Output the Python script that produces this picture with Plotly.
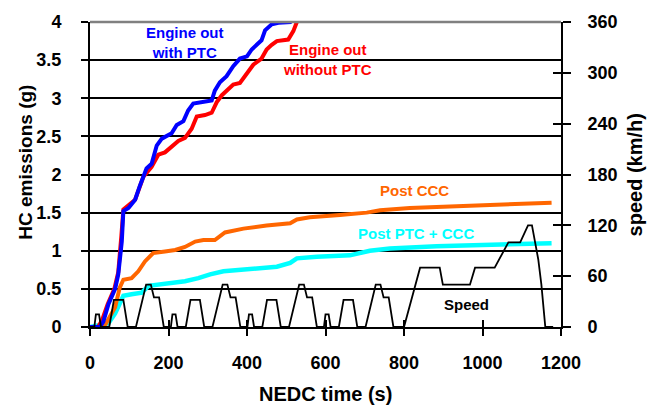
import plotly.graph_objects as go

# NEDC driving cycle: 4 urban ECE-15 cycles followed by the extra-urban cycle
speed_t = [0, 11, 15, 23, 28, 49, 61, 85, 96, 117, 143, 155, 163, 176, 188,
           195, 206, 210, 218, 223, 244, 256, 280, 291, 312, 338, 350, 358, 371, 383,
           390, 401, 405, 413, 418, 439, 451, 475, 486, 507, 533, 545, 553, 566, 578,
           585, 596, 600, 608, 613, 634, 646, 670, 681, 702, 728, 740, 748, 761, 773,
           780, 800, 841, 891, 899, 968, 981, 1031, 1066, 1096, 1116, 1126, 1142, 1150, 1160, 1180]
speed_v = [0, 0, 15, 15, 0, 0, 32, 32, 0, 0, 50, 50, 35, 35, 0,
           0, 0, 15, 15, 0, 0, 32, 32, 0, 0, 50, 50, 35, 35, 0,
           0, 0, 15, 15, 0, 0, 32, 32, 0, 0, 50, 50, 35, 35, 0,
           0, 0, 15, 15, 0, 0, 32, 32, 0, 0, 50, 50, 35, 35, 0,
           0, 0, 70, 70, 50, 50, 70, 70, 100, 100, 120, 120, 80, 50, 0, 0]

# Cumulative HC emissions (g)
eo_ptc_t = [0, 25, 34, 47, 64, 72, 81, 85, 98, 115, 127, 136, 144, 157, 170, 183, 208,
            221, 238, 250, 263, 310, 318, 331, 348, 365, 382, 400, 412, 437, 446, 463,
            480, 510, 530]
eo_ptc_y = [0, 0, 0.07, 0.3, 0.5, 0.69, 1.12, 1.52, 1.56, 1.67, 1.85, 1.97, 2.08, 2.14,
            2.38, 2.47, 2.54, 2.65, 2.7, 2.84, 2.93, 2.97, 3.1, 3.21, 3.29, 3.42, 3.52,
            3.55, 3.64, 3.76, 3.89, 3.97, 3.99, 4.0, 4.2]

eo_t = [0, 20, 30, 45, 62, 72, 80, 85, 115, 136, 157, 174, 191, 212, 225, 242, 259, 272,
        293, 310, 323, 336, 348, 365, 382, 399, 416, 437, 450, 463, 476, 505, 518, 527, 540]
eo_y = [0, 0, 0.08, 0.3, 0.5, 0.72, 1.2, 1.54, 1.67, 1.97, 2.1, 2.26, 2.29, 2.38, 2.44,
        2.48, 2.6, 2.76, 2.78, 2.81, 2.95, 3.04, 3.1, 3.18, 3.2, 3.32, 3.44, 3.52, 3.64,
        3.7, 3.75, 3.77, 3.88, 4.0, 4.2]

ccc_t = [0, 25, 40, 64, 76, 85, 106, 123, 140, 161, 191, 217, 242, 268, 289, 318, 344,
         391, 450, 510, 527, 560, 637, 705, 739, 815, 968, 1176]
ccc_y = [0, 0, 0.04, 0.26, 0.52, 0.62, 0.64, 0.73, 0.86, 0.97, 0.99, 1.01, 1.05, 1.12,
         1.14, 1.14, 1.24, 1.29, 1.33, 1.36, 1.41, 1.44, 1.47, 1.5, 1.53, 1.56, 1.59, 1.63]

ptc_ccc_t = [0, 21, 47, 64, 76, 85, 106, 132, 149, 183, 242, 276, 306, 340, 382, 425,
             476, 510, 527, 578, 662, 713, 764, 883, 1053, 1176]
ptc_ccc_y = [0, 0.02, 0.05, 0.18, 0.3, 0.41, 0.43, 0.45, 0.54, 0.56, 0.6, 0.64, 0.69,
             0.73, 0.75, 0.77, 0.79, 0.84, 0.9, 0.92, 0.94, 1.0, 1.03, 1.06, 1.09, 1.1]

x_ticks = [0, 200, 400, 600, 800, 1000, 1200]
y_ticks = [0, 0.5, 1, 1.5, 2, 2.5, 3, 3.5, 4]
y_tick_text = ["0", "0.5", "1", "1.5", "2", "2.5", "3", "3.5", "4"]
speed_ticks = [0, 60, 120, 180, 240, 300, 360]

FONT = "Liberation Sans, Arial, sans-serif"

fig = go.Figure()
fig.add_trace(go.Scatter(x=ptc_ccc_t, y=ptc_ccc_y, mode="lines",
                         line=dict(color="#00FFFF", width=4.5)))
fig.add_trace(go.Scatter(x=ccc_t, y=ccc_y, mode="lines",
                         line=dict(color="#FF6600", width=4)))
fig.add_trace(go.Scatter(x=eo_t, y=eo_y, mode="lines",
                         line=dict(color="#FF0000", width=4)))
fig.add_trace(go.Scatter(x=eo_ptc_t, y=eo_ptc_y, mode="lines",
                         line=dict(color="#0000FF", width=4)))
fig.add_trace(go.Scatter(x=speed_t, y=speed_v, mode="lines", yaxis="y2",
                         line=dict(color="black", width=1.8)))
# empty traces carrying the inner halves of the crossing tick marks
fig.add_trace(go.Scatter(x=[], y=[], xaxis="x2", yaxis="y3"))
fig.add_trace(go.Scatter(x=[], y=[], xaxis="x2", yaxis="y4"))

tick_font = dict(family=FONT, size=18, color="black", weight="bold")

fig.update_layout(
    width=662, height=410,
    margin=dict(l=90, r=101, t=15, b=83),
    plot_bgcolor="white", paper_bgcolor="white",
    showlegend=False,
    xaxis=dict(range=[0, 1200], tickvals=x_ticks, ticks="outside", ticklen=7,
               tickwidth=2, tickcolor="black", showline=True, linecolor="black",
               linewidth=2, showgrid=False, zeroline=False, tickfont=tick_font,
               ticklabelstandoff=11),
    xaxis2=dict(range=[0, 1200], tickvals=x_ticks, ticks="inside", ticklen=7,
                tickwidth=2, tickcolor="black", showticklabels=False,
                showline=False, showgrid=False, zeroline=False, overlaying="x"),
    yaxis=dict(range=[0, 4], tickvals=y_ticks, ticktext=y_tick_text, ticks="outside",
               ticklen=7, tickwidth=2, tickcolor="black", showline=True,
               linecolor="black", linewidth=2, showgrid=True, gridcolor="black",
               gridwidth=2, zeroline=False, tickfont=tick_font, ticklabelstandoff=16),
    yaxis2=dict(range=[0, 360], tickvals=speed_ticks, ticks="outside", ticklen=8,
                tickwidth=2, tickcolor="black", showline=True, linecolor="black",
                linewidth=2, showgrid=False, zeroline=False, overlaying="y",
                side="right", tickfont=tick_font, ticklabelstandoff=13),
    yaxis3=dict(range=[0, 4], tickvals=y_ticks, ticks="inside", ticklen=7,
                tickwidth=2, tickcolor="black", showticklabels=False, showline=False,
                showgrid=False, zeroline=False, overlaying="y", anchor="x2"),
    yaxis4=dict(range=[0, 360], tickvals=speed_ticks, ticks="inside", ticklen=8,
                tickwidth=2, tickcolor="black", showticklabels=False, showline=False,
                showgrid=False, zeroline=False, overlaying="y", side="right",
                anchor="x2"),
)

# grey frame along the top of the plot area
fig.add_shape(type="line", xref="x domain", yref="y domain", x0=0, x1=1, y0=1, y1=1,
              line=dict(color="#808080", width=2.5))

def label(text, x, y, color, size=15):
    fig.add_annotation(text=text, x=x, y=y, xref="x", yref="y", showarrow=False,
                       font=dict(family=FONT, size=size, color=color, weight="bold"),
                       align="center", xanchor="center", yanchor="middle")

label("Engine out<br>with PTC", 242, 3.73, "#0000FF")
label("Engine out<br>without PTC", 606, 3.51, "#FF0000")
label("Post CCC", 828, 1.79, "#FF6600")
label("Post PTC + CCC", 831, 1.23, "#00FFFF")
label("Speed", 958, 0.295, "black")

def axis_title(text, x, y, angle=0, size=20):
    fig.add_annotation(text=text, x=x, y=y, xref="paper", yref="paper", showarrow=False,
                       textangle=angle, xanchor="center", yanchor="middle",
                       font=dict(family=FONT, size=size, color="black", weight="bold"))

axis_title("NEDC time (s)", 0.501, -0.221)
axis_title("HC emissions (g)", -0.137, 0.54, angle=-90, size=19)
axis_title("speed (km/h)", 1.157, 0.5, angle=-90)

fig.write_html("out.html")
